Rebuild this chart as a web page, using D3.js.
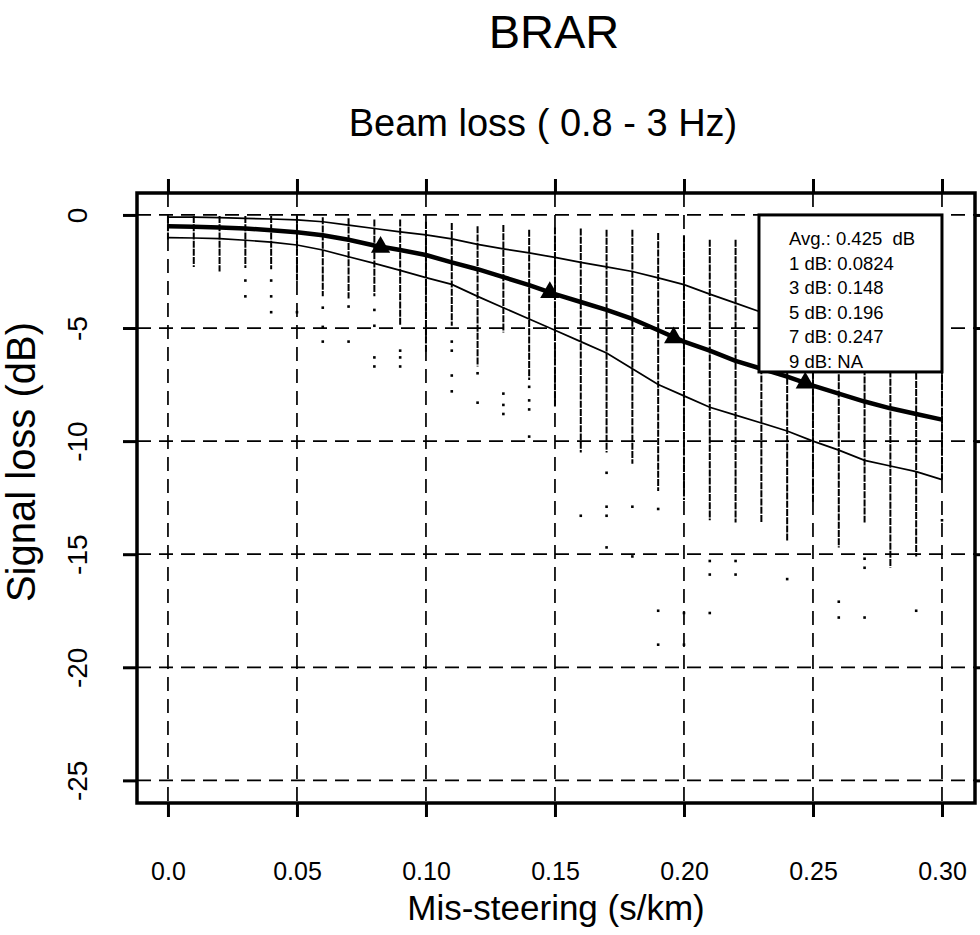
<!DOCTYPE html>
<html>
<head>
  <title>BRAR beam loss</title>
  <script src="https://d3js.org/d3.v7.min.js"></script>
  <style>
    body { margin: 0; background: #fff; }
    text { font-family: "Liberation Sans", Arial, Helvetica, sans-serif; fill: #000; }
    .legend text { white-space: pre; }
  </style>
</head>
<body>
<div id="chart"></div>
<script>
// mis-steering steps (s/km)
var xSteps = [0.00, 0.01, 0.02, 0.03, 0.04, 0.05, 0.06, 0.07, 0.08, 0.09, 0.10,
              0.11, 0.12, 0.13, 0.14, 0.15, 0.16, 0.17, 0.18, 0.19, 0.20,
              0.21, 0.22, 0.23, 0.24, 0.25, 0.26, 0.27, 0.28, 0.29, 0.30];

// average signal loss (thick line)
var meanLoss = [-0.50, -0.52, -0.55, -0.60, -0.68, -0.77, -0.90, -1.10, -1.35, -1.55, -1.77,
                -2.10, -2.40, -2.75, -3.10, -3.50, -3.85, -4.20, -4.60, -5.10, -5.60,
                -6.00, -6.45, -6.80, -7.15, -7.55, -7.90, -8.25, -8.55, -8.80, -9.05];

// upper and lower envelope (thin lines)
var upperLoss = [-0.10, -0.10, -0.12, -0.15, -0.18, -0.22, -0.30, -0.45, -0.60, -0.75, -0.88,
                 -1.06, -1.30, -1.50, -1.68, -1.88, -2.10, -2.30, -2.50, -2.78, -3.08,
                 -3.50, -3.90, -4.30, -4.70, -5.10, -5.50, -5.90, -6.20, -6.50, -6.80];
var lowerLoss = [-1.00, -1.02, -1.05, -1.12, -1.20, -1.33, -1.55, -1.85, -2.14, -2.45, -2.77,
                 -3.07, -3.60, -4.10, -4.60, -5.10, -5.60, -6.10, -6.80, -7.50, -8.00,
                 -8.50, -8.85, -9.20, -9.55, -10.00, -10.40, -10.85, -11.10, -11.35, -11.70];

// dense part of each column of individual losses
var colTop = [-0.05, -0.05, -0.05, -0.05, -0.05, -0.05, -0.10, -0.15, -0.20, -0.20, -0.30,
              -0.36, -0.50, -0.45, -0.66, -0.55, -0.60, -0.65, -0.65, -0.80, -0.90,
              -1.10, -1.10, -1.30, -1.40, -1.50, -1.60, -1.70, -1.80, -1.90, -2.00];
var colBottom = [-1.10, -2.30, -2.50, -2.35, -2.40, -2.90, -3.60, -3.70, -3.60, -4.90, -6.10,
                 -4.90, -6.70, -5.20, -7.30, -8.50, -10.50, -10.50, -11.00, -12.20, -12.60,
                 -13.50, -13.60, -13.60, -14.40, -12.70, -14.70, -13.60, -15.60, -15.10, -11.70];

// isolated points below the columns
var dotX = [0.03, 0.03, 0.04, 0.04, 0.04, 0.05, 0.06, 0.06, 0.06, 0.07, 0.07,
            0.08, 0.08, 0.08, 0.08, 0.09, 0.09, 0.09, 0.11, 0.11, 0.11, 0.11,
            0.12, 0.12, 0.13, 0.13, 0.13, 0.14, 0.14, 0.14, 0.14,
            0.16, 0.17, 0.17, 0.17, 0.17, 0.18, 0.18, 0.19, 0.19, 0.19,
            0.20, 0.20, 0.21, 0.21, 0.21, 0.22, 0.22, 0.24, 0.26, 0.26,
            0.27, 0.27, 0.27, 0.29, 0.30];
var dotY = [-2.9, -3.6, -2.9, -3.6, -4.3, -4.3, -4.1, -4.95, -5.6, -4.05, -5.6,
            -4.2, -4.9, -6.3, -6.7, -6.0, -6.3, -6.7, -5.6, -6.0, -7.1, -7.8,
            -7.0, -8.3, -7.9, -8.4, -8.8, -7.6, -8.2, -8.6, -9.8,
            -13.3, -11.4, -12.9, -13.3, -14.7, -12.9, -15.1, -13.0, -17.5, -19.0,
            -17.6, -19.0, -15.3, -15.9, -17.6, -15.3, -15.9, -16.1, -17.1, -17.8,
            -15.2, -15.6, -17.8, -17.5, -13.5];

// mis-steering where the average loss drops by 1, 3, 5, 7 dB
var markerX = [0.0824, 0.148, 0.196, 0.247];
var markerY = [-1.425, -3.425, -5.425, -7.425];

var xTicks = [0, 0.05, 0.10, 0.15, 0.20, 0.25, 0.30];
var xTickLabels = ["0.0", "0.05", "0.10", "0.15", "0.20", "0.25", "0.30"];
var yTicks = [0, -5, -10, -15, -20, -25];
var yTickLabels = ["0", "-5", "-10", "-15", "-20", "-25"];

var legendLines = ["Avg.: 0.425  dB", "1 dB: 0.0824", "3 dB: 0.148", "5 dB: 0.196", "7 dB: 0.247", "9 dB: NA"];

var W = 980, H = 935;
var box = { left: 137, right: 975, top: 193, bottom: 803 };

var svg = d3.select("#chart").append("svg")
  .attr("width", W)
  .attr("height", H);

var x = d3.scaleLinear().domain([-0.012, 0.3128]).range([box.left, box.right]);
var y = d3.scaleLinear().domain([-26, 0.97]).range([box.bottom, box.top]);

// titles
svg.append("text")
  .attr("x", 554).attr("y", 48)
  .attr("text-anchor", "middle")
  .style("font-size", "47px")
  .text("BRAR");

svg.append("text")
  .attr("x", 543).attr("y", 136)
  .attr("text-anchor", "middle")
  .style("font-size", "38px")
  .text("Beam loss ( 0.8 - 3 Hz)");

// grid
var grid = svg.append("g")
  .attr("stroke", "#000")
  .attr("stroke-width", 1.7)
  .attr("stroke-dasharray", "14,8")
  .attr("fill", "none");

grid.selectAll(".gx")
  .data(xTicks)
  .enter().append("line")
  .attr("x1", d => x(d)).attr("x2", d => x(d))
  .attr("y1", box.top).attr("y2", box.bottom);

grid.selectAll(".gy")
  .data(yTicks)
  .enter().append("line")
  .attr("x1", box.left).attr("x2", box.right)
  .attr("y1", d => y(d)).attr("y2", d => y(d));

// columns of individual values
var cols = xSteps.map((d, i) => ({ x: d, top: colTop[i], bottom: colBottom[i] }));
svg.append("g").selectAll("line")
  .data(cols)
  .enter().append("line")
  .attr("x1", d => x(d.x)).attr("x2", d => x(d.x))
  .attr("y1", d => y(d.top)).attr("y2", d => y(d.bottom))
  .attr("stroke", "#000")
  .attr("stroke-width", 2)
  .attr("stroke-dasharray", "7,1.2");

var dots = dotX.map((d, i) => ({ x: d, y: dotY[i] }));
svg.append("g").selectAll("rect")
  .data(dots)
  .enter().append("rect")
  .attr("x", d => x(d.x) - 1.3)
  .attr("y", d => y(d.y) - 1.3)
  .attr("width", 2.6)
  .attr("height", 2.6)
  .attr("fill", "#000");

// curves
function curveOf(values) {
  return d3.line()
    .x((d, i) => x(xSteps[i]))
    .y(d => y(d))(values);
}

svg.append("path").attr("d", curveOf(upperLoss))
  .attr("fill", "none").attr("stroke", "#000").attr("stroke-width", 1.7);
svg.append("path").attr("d", curveOf(lowerLoss))
  .attr("fill", "none").attr("stroke", "#000").attr("stroke-width", 1.7);
svg.append("path").attr("d", curveOf(meanLoss))
  .attr("fill", "none").attr("stroke", "#000").attr("stroke-width", 4.5)
  .attr("stroke-linejoin", "round");

// triangles
var markers = markerX.map((d, i) => ({ x: d, y: markerY[i] }));
svg.append("g").selectAll("path")
  .data(markers)
  .enter().append("path")
  .attr("transform", d => "translate(" + x(d.x) + "," + y(d.y) + ")")
  .attr("d", d3.symbol().type(d3.symbolTriangle).size(160))
  .attr("fill", "#000");

// axes: ticks on all four sides, outside the box
var tickLen = 14;

var bottomAxis = svg.append("g")
  .attr("transform", "translate(0," + box.bottom + ")")
  .call(d3.axisBottom(x).tickValues(xTicks).tickSize(tickLen).tickPadding(45)
    .tickFormat((d, i) => xTickLabels[i]));
bottomAxis.selectAll("text").style("font-size", "25px");

svg.append("g")
  .attr("transform", "translate(0," + box.top + ")")
  .call(d3.axisTop(x).tickValues(xTicks).tickSize(tickLen).tickFormat(""));

var leftAxis = svg.append("g")
  .attr("transform", "translate(" + box.left + ",0)")
  .call(d3.axisLeft(y).tickValues(yTicks).tickSize(tickLen)
    .tickFormat((d, i) => yTickLabels[i]));
leftAxis.selectAll("text")
  .attr("x", 0).attr("y", -50).attr("dy", null)
  .attr("transform", "rotate(-90)")
  .style("text-anchor", "middle")
  .style("font-size", "28px");

svg.append("g")
  .attr("transform", "translate(" + box.right + ",0)")
  .call(d3.axisRight(y).tickValues(yTicks).tickSize(tickLen).tickFormat(""));

svg.selectAll(".domain").remove();
svg.selectAll(".tick line").attr("stroke", "#000").attr("stroke-width", 3);

// plot box
svg.append("rect")
  .attr("x", box.left).attr("y", box.top)
  .attr("width", box.right - box.left)
  .attr("height", box.bottom - box.top)
  .attr("fill", "none")
  .attr("stroke", "#000")
  .attr("stroke-width", 3.5);

// axis titles
svg.append("text")
  .attr("x", 556).attr("y", 920)
  .attr("text-anchor", "middle")
  .style("font-size", "35px")
  .text("Mis-steering (s/km)");

svg.append("text")
  .attr("transform", "translate(35,462) rotate(-90)")
  .attr("text-anchor", "middle")
  .style("font-size", "40px")
  .text("Signal loss (dB)");

// legend, top right corner pinned to (0.30, 0)
var lx = x(0.30) - 183, ly = y(0);
var legend = svg.append("g").attr("class", "legend");
legend.append("rect")
  .attr("x", lx).attr("y", ly)
  .attr("width", 183).attr("height", 157)
  .attr("fill", "#fff")
  .attr("stroke", "#000")
  .attr("stroke-width", 3);
legend.selectAll("text")
  .data(legendLines)
  .enter().append("text")
  .attr("x", lx + 30)
  .attr("y", (d, i) => ly + 30 + i * 24.6)
  .style("font-size", "18.5px")
  .text(d => d);
</script>
</body>
</html>
